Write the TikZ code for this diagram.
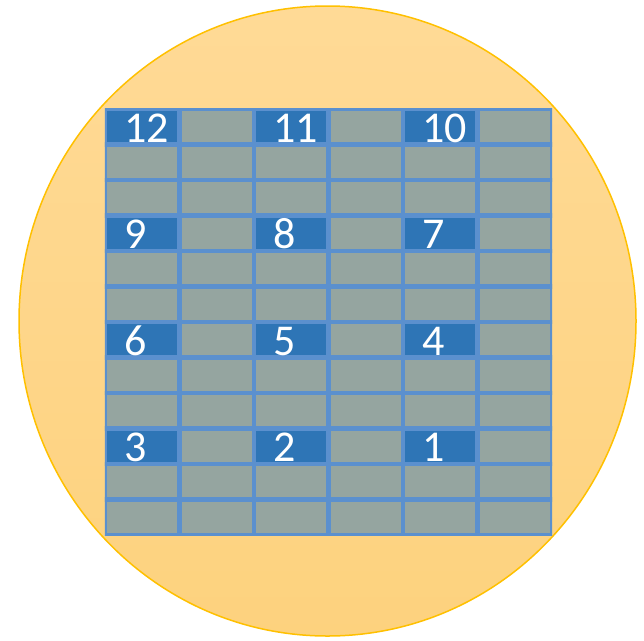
\documentclass[tikz,border=0pt]{standalone}
\usepackage{fontspec}
\setmainfont{Carlito}
\usetikzlibrary{positioning}
\definecolor{waferTop}{HTML}{FFDA96}
\definecolor{waferLow}{HTML}{FDD27E}
\definecolor{waferEdge}{HTML}{FFC000}
\definecolor{dieGray}{HTML}{95A5A0}
\definecolor{dieBlue}{HTML}{2E75B6}
\definecolor{dieLine}{HTML}{5B90CE}

\begin{document}
\begin{tikzpicture}[
  x=1pt, y=-1pt,
  wafer/.style={draw=waferEdge, line width=1.5pt, top color=waferTop, bottom color=waferLow},
  die/.style={rectangle, fill=dieGray, draw=dieLine, line width=4.4pt,
    minimum width=\dw pt, minimum height=\dh pt, inner sep=0pt, outer sep=0pt},
  probed/.style={die, fill=dieBlue},
  dienum/.style={font=\fontsize{44}{44}\selectfont, text=white, inner sep=0pt, anchor=base west}
]
  %% --- geometria (unita': px) ---
  \def\gx{105}     % bordo sinistro della griglia
  \def\gy{109}     % bordo superiore della griglia
  \def\dw{74.5}    % larghezza die
  \def\dh{35.5}    % altezza die
  \def\tx{19}      % rientro del numero nel die

  \useasboundingbox (0,0) rectangle (644,640);

  %% --- wafer ---
  \draw[wafer] (327.5,321) ellipse [x radius=308.5, y radius=315];

  %% --- griglia 12x6 di die, uno ogni tre righe e due colonne numerato ---
  \begin{scope}
    \clip ({\gx-0.2},{\gy-0.2}) rectangle ({\gx+6*\dw+0.2},{\gy+12*\dh+0.2});
    \foreach \r in {0,...,11} {
      \foreach \c in {0,...,5} {
        \pgfmathsetmacro{\xx}{\gx+(\c+0.5)*\dw}
        \pgfmathsetmacro{\yy}{\gy+(\r+0.5)*\dh}
        \pgfmathtruncatemacro{\isnum}{and(mod(\r,3)==0, mod(\c,2)==0)}
        \ifnum\isnum=1
          \node[probed] (d-\r-\c) at (\xx,\yy) {};
        \else
          \node[die] (d-\r-\c) at (\xx,\yy) {};
        \fi
      }
    }
  \end{scope}

  %% --- numeri dei die ---
  \foreach \r in {0,3,6,9} {
    \foreach \c in {0,2,4} {
      \pgfmathtruncatemacro{\num}{3*(3-\r/3)+(3-\c/2)}
      \node[dienum] (n\num) at ({\gx+\c*\dw+\tx},{\gy+(\r+0.5)*\dh+15.5}) {\num};
    }
  }
\end{tikzpicture}
\end{document}
